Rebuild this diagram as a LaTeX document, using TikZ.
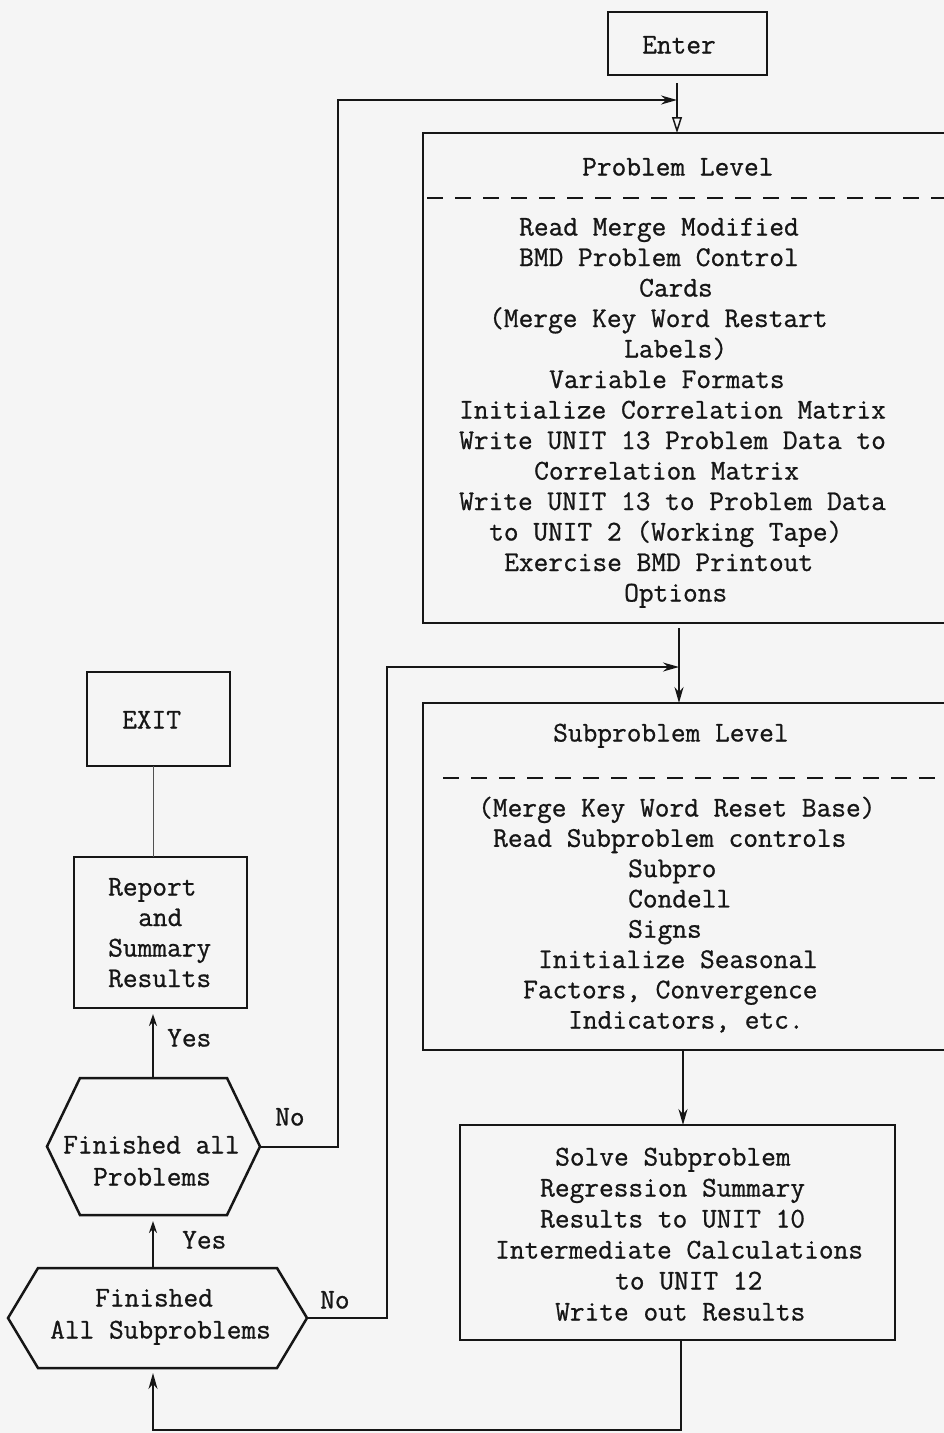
\documentclass[tikz,border=0pt]{standalone}
\usepackage{fontspec}
\newfontfamily\mono{Latin Modern Mono}[FakeBold=0.8]
\usetikzlibrary{arrows.meta,calc}
\definecolor{paper}{RGB}{245,245,245}
\definecolor{ink}{RGB}{22,22,22}
\tikzset{
  frame/.style={draw=ink, line width=2.5pt},
  conn/.style={draw=ink, line width=2pt},
  arr/.style={conn, -{Stealth[length=16pt,width=9pt]}},
  smallarr/.style={conn, -{Stealth[length=12pt,width=8pt]}},
  openarr/.style={conn, -{Triangle[open,length=16pt,width=10pt,line width=1.5pt]}},
  thinconn/.style={draw=ink!75, line width=1pt},
  divider/.style={draw=ink, line width=2.6pt, dash pattern=on 16pt off 12pt},
  txt/.style={font=\mono\fontsize{28.57}{34}\selectfont, text=ink, inner sep=0pt, anchor=base west},
  blank/.style={inner sep=0pt, outer sep=0pt}
}
\newcommand\textlines[5]{%
  \foreach \k/\t [count=\i] in {#5} {\node[txt] (#1\i) at ({#2+\k*15},{-(#3+(\i-1)*#4)-8.5}) {\t};}}
\begin{document}
\begin{tikzpicture}[x=1pt,y=1pt]
\path[use as bounding box, fill=paper] (0,0) rectangle (944,-1433);

% Enter
\node[frame, blank, minimum width=159pt, minimum height=63pt] (enter) at (687.5,-43.5) {};
\textlines{entert}{642}{45}{30}{0/Enter}

% Problem level box (right side runs off the page)
\coordinate (ptop) at (677,-133);
\coordinate (pbot) at (679,-623);
\draw[frame] (944,-133) -| (423,-623) -- (944,-623);
\draw[divider] (427,-198) -- (944,-198);
\textlines{ph}{582}{167}{30}{0/Problem Level}
\textlines{pl}{459}{227}{30.5}{4/Read Merge Modified, 4/BMD Problem Control, 12/Cards, 2/{(Merge Key Word Restart}, 11/{Labels)}, 6/Variable Formats, 0/Initialize Correlation Matrix, 0/Write UNIT 13 Problem Data to, 5/Correlation Matrix, 0/Write UNIT 13 to Problem Data, 2/{to UNIT 2 (Working Tape)}, 3/Exercise BMD Printout, 11/Options}

% Subproblem level box
\coordinate (stop) at (679,-703);
\coordinate (sbot) at (683,-1050);
\draw[frame] (944,-703) -| (423,-1050) -- (944,-1050);
\draw[divider] (443,-778) -- (944,-778);
\textlines{sh}{553}{733}{30}{0/Subproblem Level}
\textlines{sl}{478}{808}{30.3}{0/{(Merge Key Word Reset Base)}, 1/Read Subproblem controls, 10/Subpro, 10/Condell, 10/Signs, 4/Initialize Seasonal, 3/{Factors, Convergence}, 6/{Indicators, etc.}}

% Solve box
\node[frame, blank, minimum width=435pt, minimum height=215pt] (solve) at (677.5,-1232.5) {};
\textlines{vl}{495}{1157}{31}{4/Solve Subproblem, 3/Regression Summary, 3/Results to UNIT 10, 0/Intermediate Calculations, 8/to UNIT 12, 4/Write out Results}

% EXIT and Report
\node[frame, blank, minimum width=143pt, minimum height=94pt] (exit) at (158.5,-719) {};
\textlines{xt}{122}{720}{30}{0/EXIT}
\node[frame, blank, minimum width=173pt, minimum height=151pt] (report) at (160.5,-932.5) {};
\textlines{rt}{108}{887}{30.5}{0/Report, 2/and, 0/Summary, 0/Results}

% Decision hexagons
\node[blank, minimum width=213pt, minimum height=137pt] (fap) at (153.5,-1146.5) {};
\draw[frame] ($(fap.north west)+(33,0)$) -- ($(fap.north east)+(-33,0)$) -- (fap.east)
  -- ($(fap.south east)+(-33,0)$) -- ($(fap.south west)+(33,0)$) -- (fap.west) -- cycle;
\textlines{ft}{63}{1145}{32}{0/Finished all, 2/Problems}

\node[blank, minimum width=299pt, minimum height=100pt] (fas) at (157.5,-1318) {};
\draw[frame] ($(fas.north west)+(30,0)$) -- ($(fas.north east)+(-30,0)$) -- (fas.east)
  -- ($(fas.south east)+(-30,0)$) -- ($(fas.south west)+(30,0)$) -- (fas.west) -- cycle;
\textlines{st}{50}{1298}{32}{3/Finished, 0/All Subproblems}

% Labels
\textlines{noA}{275}{1117}{30}{0/No}
\textlines{noB}{320}{1300}{30}{0/No}
\textlines{yesA}{167}{1038}{30}{0/Yes}
\textlines{yesB}{182}{1240}{30}{0/Yes}

% Connectors
\coordinate (colx) at (153,0);
\coordinate (j1) at (677,-100);
\coordinate (lx1) at (338,-100);
\coordinate (j2) at (679,-667);
\coordinate (lx2) at (387,-667);
\coordinate (bl) at (681,-1430);

\draw[openarr, shorten <=8pt] (enter.south -| ptop) -- (ptop);
\draw[arr] (fap.east) -| (lx1) -- (j1);
\draw[arr, shorten <=5pt] (pbot) -- (stop);
\draw[arr] (fas.east) -| (lx2) -- (j2);
\draw[arr] (sbot) -- (solve.north -| sbot);
\draw[arr, shorten >=5pt] (solve.south -| bl) -- (bl) -| (fas.south -| colx);
\draw[smallarr, shorten >=6pt] (fas.north -| colx) -- (fap.south -| colx);
\draw[smallarr, shorten >=6pt] (fap.north -| colx) -- (report.south -| colx);
\draw[thinconn] (report.north -| colx) -- (exit.south -| colx);
\end{tikzpicture}
\end{document}
